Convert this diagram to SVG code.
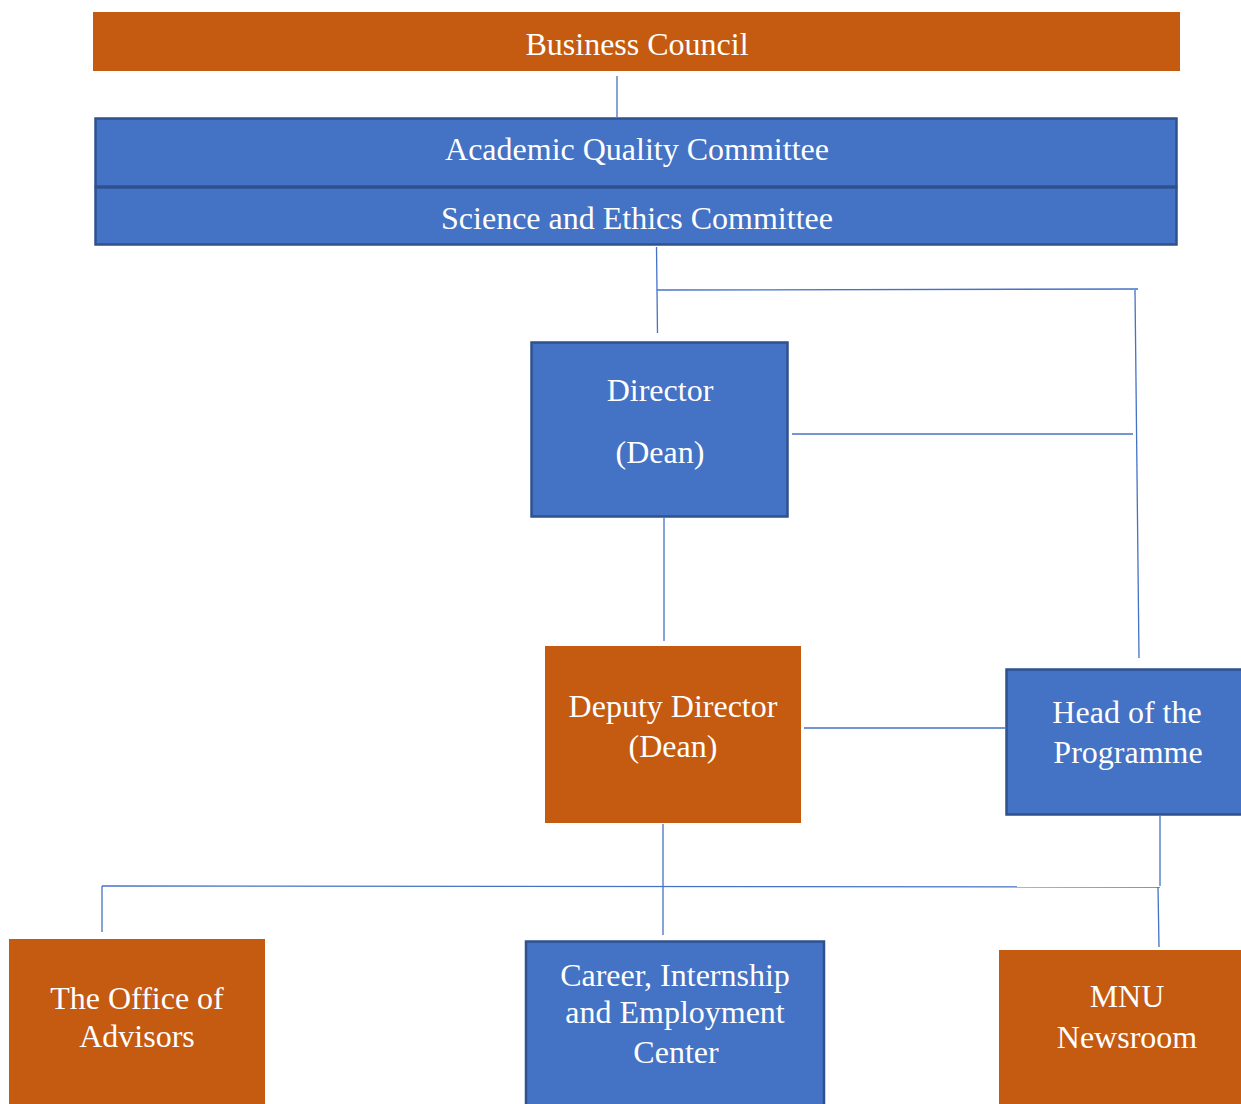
<svg xmlns="http://www.w3.org/2000/svg" width="1241" height="1104" viewBox="0 0 1241 1104">
<style>
.o{fill:#C55A11}
.b{fill:#4472C4;stroke:#2F528F;stroke-width:2.5}
.t{font-family:'Liberation Serif','Times New Roman',Times,serif;font-size:32px;fill:#fff;text-anchor:middle}
.c{stroke:#4472C4;stroke-width:1.3;fill:none}
</style>
<rect width="1241" height="1104" fill="#fff"/>
<g id="connectors">
<line class="c" x1="617" y1="76" x2="617" y2="117"/>
<line class="c" x1="656.5" y1="247" x2="657.5" y2="333"/>
<line class="c" x1="657" y1="290" x2="1138" y2="289"/>
<line class="c" x1="1135" y1="290" x2="1139" y2="658"/>
<line class="c" x1="792" y1="434" x2="1133" y2="434"/>
<line class="c" x1="664" y1="518" x2="664" y2="641"/>
<line class="c" x1="804" y1="728" x2="1005" y2="728"/>
<line class="c" x1="1160" y1="816" x2="1160" y2="886"/>
<line class="c" x1="663" y1="824" x2="663" y2="935"/>
<line class="c" x1="102" y1="886" x2="1160" y2="887"/>
<line class="c" x1="102" y1="886" x2="102" y2="932"/>
<line class="c" x1="1158" y1="887" x2="1159" y2="947"/>
</g>
<g id="business-council"><rect class="o" x="93" y="12" width="1087" height="59"/><text class="t" x="637" y="55">Business Council</text></g>
<g id="academic-quality"><rect class="b" x="95.5" y="118.5" width="1081" height="68"/><text class="t" x="637" y="160">Academic Quality Committee</text></g>
<g id="science-ethics"><rect class="b" x="95.5" y="187.5" width="1081" height="57"/><text class="t" x="637" y="229">Science and Ethics Committee</text></g>
<g id="director"><rect class="b" x="531.5" y="342.5" width="256" height="174"/><text class="t" x="660" y="401">Director</text><text class="t" x="660" y="463">(Dean)</text></g>
<g id="deputy-director"><rect class="o" x="545" y="646" width="256" height="177"/><text class="t" x="673" y="717">Deputy Director</text><text class="t" x="673" y="757">(Dean)</text></g>
<g id="head-programme"><rect class="b" x="1006.5" y="669.5" width="240" height="145"/><text class="t" x="1127" y="723">Head of the</text><text class="t" x="1128" y="763">Programme</text></g>
<g id="office-advisors"><rect class="o" x="9" y="939" width="256" height="170"/><text class="t" x="137" y="1009">The Office of</text><text class="t" x="137" y="1047">Advisors</text></g>
<g id="career-center"><rect class="b" x="526" y="941.5" width="298" height="170"/><text class="t" x="675" y="986">Career, Internship</text><text class="t" x="675" y="1023">and Employment</text><text class="t" x="676" y="1063">Center</text></g>
<g id="mnu-newsroom"><rect class="o" x="999" y="950" width="250" height="160"/><text class="t" x="1127" y="1007">MNU</text><text class="t" x="1127" y="1048">Newsroom</text></g>
</svg>
